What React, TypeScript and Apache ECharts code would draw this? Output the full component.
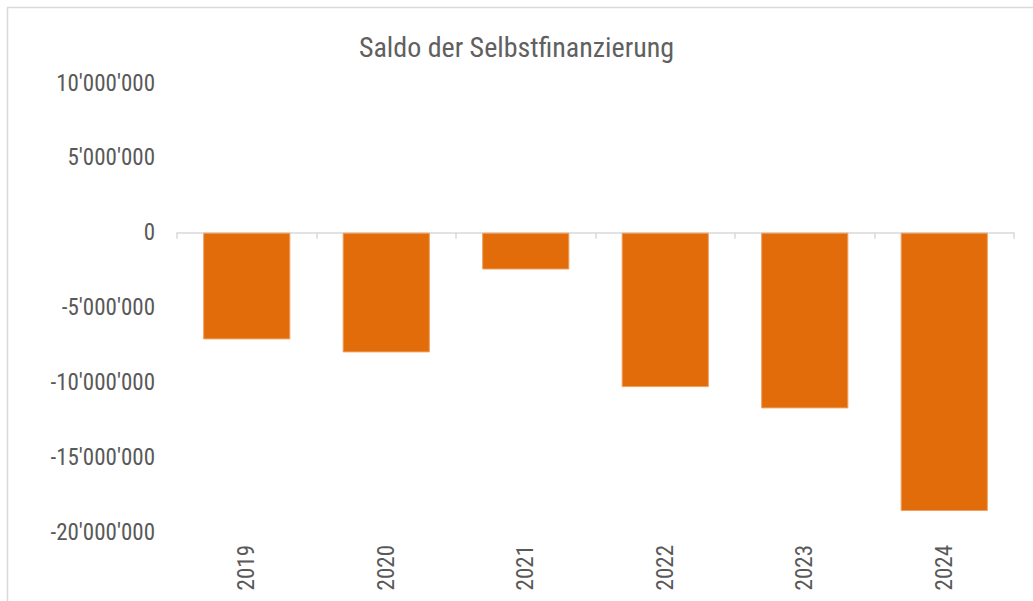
import React, { useEffect, useRef } from "react";
import * as echarts from "echarts";

const years = ["2019", "2020", "2021", "2022", "2023", "2024"];
const saldo = [-7130000, -8000000, -2460000, -10320000, -11740000, -18600000];
const yMin = -20000000;
const yMax = 10000000;
const yStep = 5000000;

const FONT = '"Liberation Sans Narrow", "Arial Narrow", "Roboto Condensed", "Liberation Sans", sans-serif';
const GREY = "#595959";

function fmt(v: number): string {
  const s = Math.abs(v).toString().replace(/\B(?=(\d{3})+(?!\d))/g, "'");
  return (v < 0 ? "-" : "") + s;
}

export default function App() {
  const ref = useRef<HTMLDivElement>(null);
  useEffect(() => {
    if (!ref.current) return;
    const chart = echarts.init(ref.current, null, { renderer: "svg" });
    chart.setOption({
      animation: false,
      backgroundColor: "#ffffff",
      textStyle: { fontFamily: FONT },
      title: {
        text: "Saldo der Selbstfinanzierung",
        left: "center",
        top: 28,
        textStyle: { fontFamily: FONT, fontSize: 28, fontWeight: "normal", color: "#606060" },
      },
      graphic: [
        {
          type: "rect",
          shape: { x: 7.5, y: 7.5, width: 1040, height: 610 },
          style: { fill: "none", stroke: "#d9d9d9", lineWidth: 1.5 },
          silent: true,
          z: -1,
        },
      ],
      grid: { left: 177, right: 19, top: 83, bottom: 69, containLabel: false },
      xAxis: [
        {
          type: "category",
          data: years,
          position: "bottom",
          axisLine: { show: true, onZero: true, lineStyle: { color: "#d9d9d9", width: 1.5 } },
          axisTick: { show: true, length: 6, lineStyle: { color: "#d9d9d9", width: 1.5 } },
          axisLabel: { show: false },
          splitLine: { show: false },
        },
        {
          type: "category",
          data: years,
          position: "bottom",
          axisLine: { show: false, onZero: false },
          axisTick: { show: false },
          axisLabel: {
            show: true,
            rotate: 90,
            margin: 13,
            fontFamily: FONT,
            fontSize: 23,
            color: GREY,
          },
          splitLine: { show: false },
        },
      ],
      yAxis: {
        type: "value",
        min: yMin,
        max: yMax,
        interval: yStep,
        axisLine: { show: false },
        axisTick: { show: false },
        splitLine: { show: false },
        axisLabel: {
          margin: 22,
          fontFamily: FONT,
          fontSize: 23,
          color: GREY,
          formatter: (v: number) => fmt(v),
        },
      },
      series: [
        {
          type: "bar",
          xAxisIndex: 0,
          data: saldo,
          barWidth: "62.5%",
          itemStyle: { color: "#E36C0A", borderColor: "#f0a060", borderWidth: 1 },
        },
      ],
    });
    return () => chart.dispose();
  }, []);
  return (
    <div
      ref={ref}
      style={{ position: "fixed", left: 0, top: 0, width: 1033, height: 601, background: "#fff" }}
    />
  );
}
